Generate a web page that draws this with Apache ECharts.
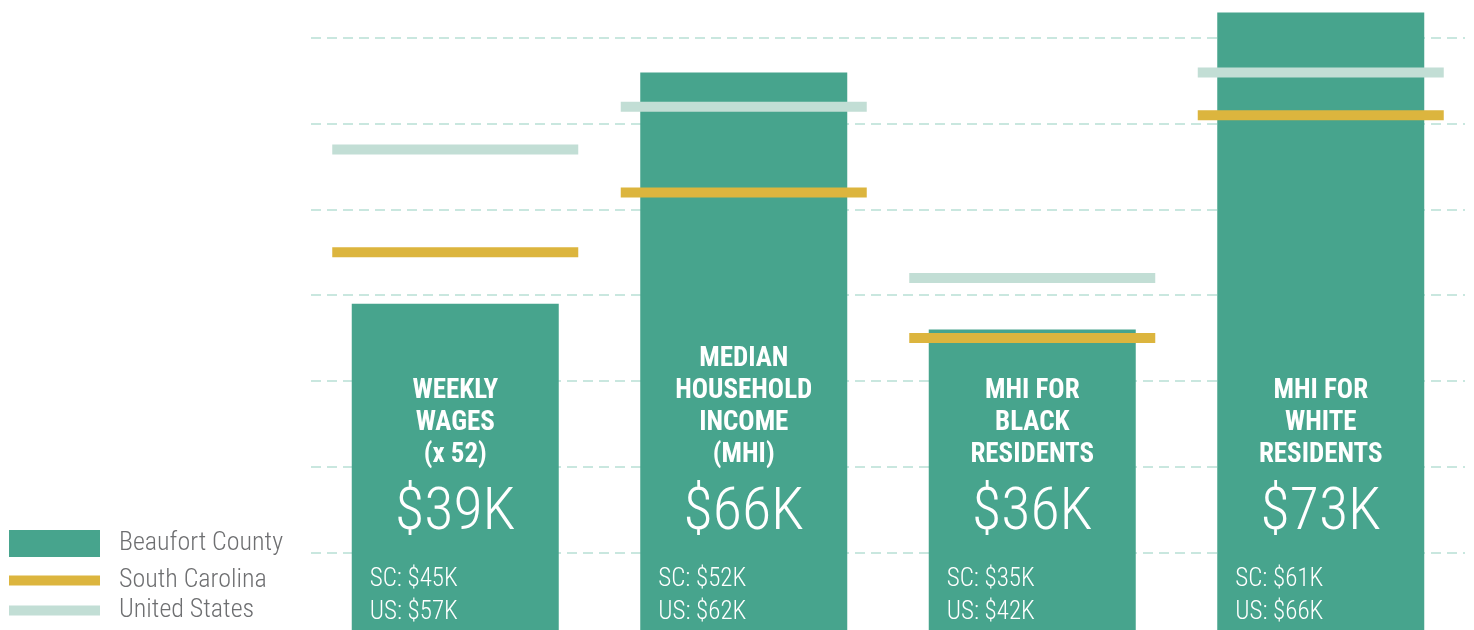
<!DOCTYPE html>
<html>
<head>
<meta charset="utf-8">
<script src="https://cdn.jsdelivr.net/npm/echarts@6/dist/echarts.min.js"></script>
<style>
  html, body { margin: 0; padding: 0; background: #ffffff; }
  #chart { width: 1474px; height: 630px; }
</style>
</head>
<body>
<div id="chart"></div>
<script>
// Income comparison, values in thousands of dollars
const categories = [
  ['WEEKLY', 'WAGES', '(x 52)'],
  ['MEDIAN', 'HOUSEHOLD', 'INCOME', '(MHI)'],
  ['MHI FOR', 'BLACK', 'RESIDENTS'],
  ['MHI FOR', 'WHITE', 'RESIDENTS']
];
const beaufort = [39, 66, 36, 73];
const southCarolina = [45, 52, 35, 61];
const unitedStates = [57, 62, 42, 66];
const gridValues = [10, 20, 30, 40, 50, 60, 70];

const FONT = "'Roboto Condensed', 'DejaVu Sans Condensed', sans-serif";
const TEAL = '#47a48d';
const GOLD = '#dcb53e';
const PALE = '#c2ded5';
const GREY = '#6e6f71';

// visible value window: the zero baseline sits just below the bottom edge
const AXIS_MIN = 0.93;
const AXIS_MAX = 74.45;

const chart = echarts.init(document.getElementById('chart'));
const catKeys = categories.map((_, i) => 'c' + i);

const legendText = {
  fontFamily: FONT, fontSize: 26, fontWeight: 300, color: GREY,
  lineHeight: 27, padding: [0, 0, 0, 14]
};
function legendFor(name, top, h) {
  return {
    data: [{ name: name, icon: 'rect' }],
    left: 4, top: top,
    itemWidth: 91, itemHeight: h,
    selectedMode: false,
    textStyle: legendText
  };
}

chart.setOption({
  backgroundColor: '#ffffff',
  animation: false,
  grid: { left: 311, right: 9, top: 0, bottom: 0 },
  xAxis: {
    type: 'category',
    data: catKeys,
    boundaryGap: true,
    axisLine: { show: false },
    axisTick: { show: false },
    axisLabel: { show: false },
    splitLine: { show: false }
  },
  yAxis: {
    type: 'value',
    min: AXIS_MIN,
    max: AXIS_MAX,
    axisLine: { show: false },
    axisTick: { show: false },
    axisLabel: { show: false },
    splitLine: { show: false }
  },
  legend: [
    legendFor('Beaufort County', 525, 27),
    legendFor('South Carolina', 562, 10),
    legendFor('United States', 592, 10)
  ],
  series: [
    {
      // dashed guide lines every 10K, kept behind the bars
      name: 'guides',
      type: 'line',
      data: [],
      silent: true,
      z: 1,
      markLine: {
        silent: true,
        z: 1,
        symbol: 'none',
        label: { show: false },
        lineStyle: { color: '#c9e7df', width: 2, type: [10, 6] },
        data: gridValues.map(v => ({ yAxis: v }))
      }
    },
    {
      name: 'Beaufort County',
      type: 'bar',
      data: beaufort,
      barWidth: 207,
      clip: true,
      itemStyle: { color: TEAL },
      z: 2,
      label: {
        show: true,
        position: 'insideBottom',
        distance: 73,
        formatter: (p) => categories[p.dataIndex].map(t => '{t|' + t + '}').join('\n') +
          '\n{v|$' + beaufort[p.dataIndex] + 'K}',
        rich: {
          t: { fontFamily: FONT, fontWeight: 'bold', fontSize: 27, lineHeight: 32, color: '#ffffff', align: 'center' },
          v: { fontFamily: FONT, fontWeight: 300, fontSize: 60, lineHeight: 86, color: '#ffffff', align: 'center' }
        }
      }
    },
    {
      name: 'state-national',
      type: 'bar',
      data: beaufort,
      barWidth: 207,
      barGap: '-100%',
      clip: true,
      itemStyle: { color: 'rgba(0,0,0,0)' },
      z: 3,
      label: {
        show: true,
        position: 'insideBottomLeft',
        distance: 1,
        offset: [17, 0],
        fontFamily: FONT,
        fontWeight: 300,
        fontSize: 25,
        lineHeight: 33,
        color: '#ffffff',
        align: 'left',
        formatter: (p) => 'SC: $' + southCarolina[p.dataIndex] + 'K\nUS: $' + unitedStates[p.dataIndex] + 'K'
      }
    },
    {
      name: 'South Carolina',
      type: 'scatter',
      data: southCarolina,
      symbol: 'rect',
      symbolSize: [246, 10],
      itemStyle: { color: GOLD, opacity: 1 },
      z: 5
    },
    {
      name: 'United States',
      type: 'scatter',
      data: unitedStates,
      symbol: 'rect',
      symbolSize: [246, 10],
      itemStyle: { color: PALE, opacity: 1 },
      z: 5
    }
  ]
});
</script>
</body>
</html>
